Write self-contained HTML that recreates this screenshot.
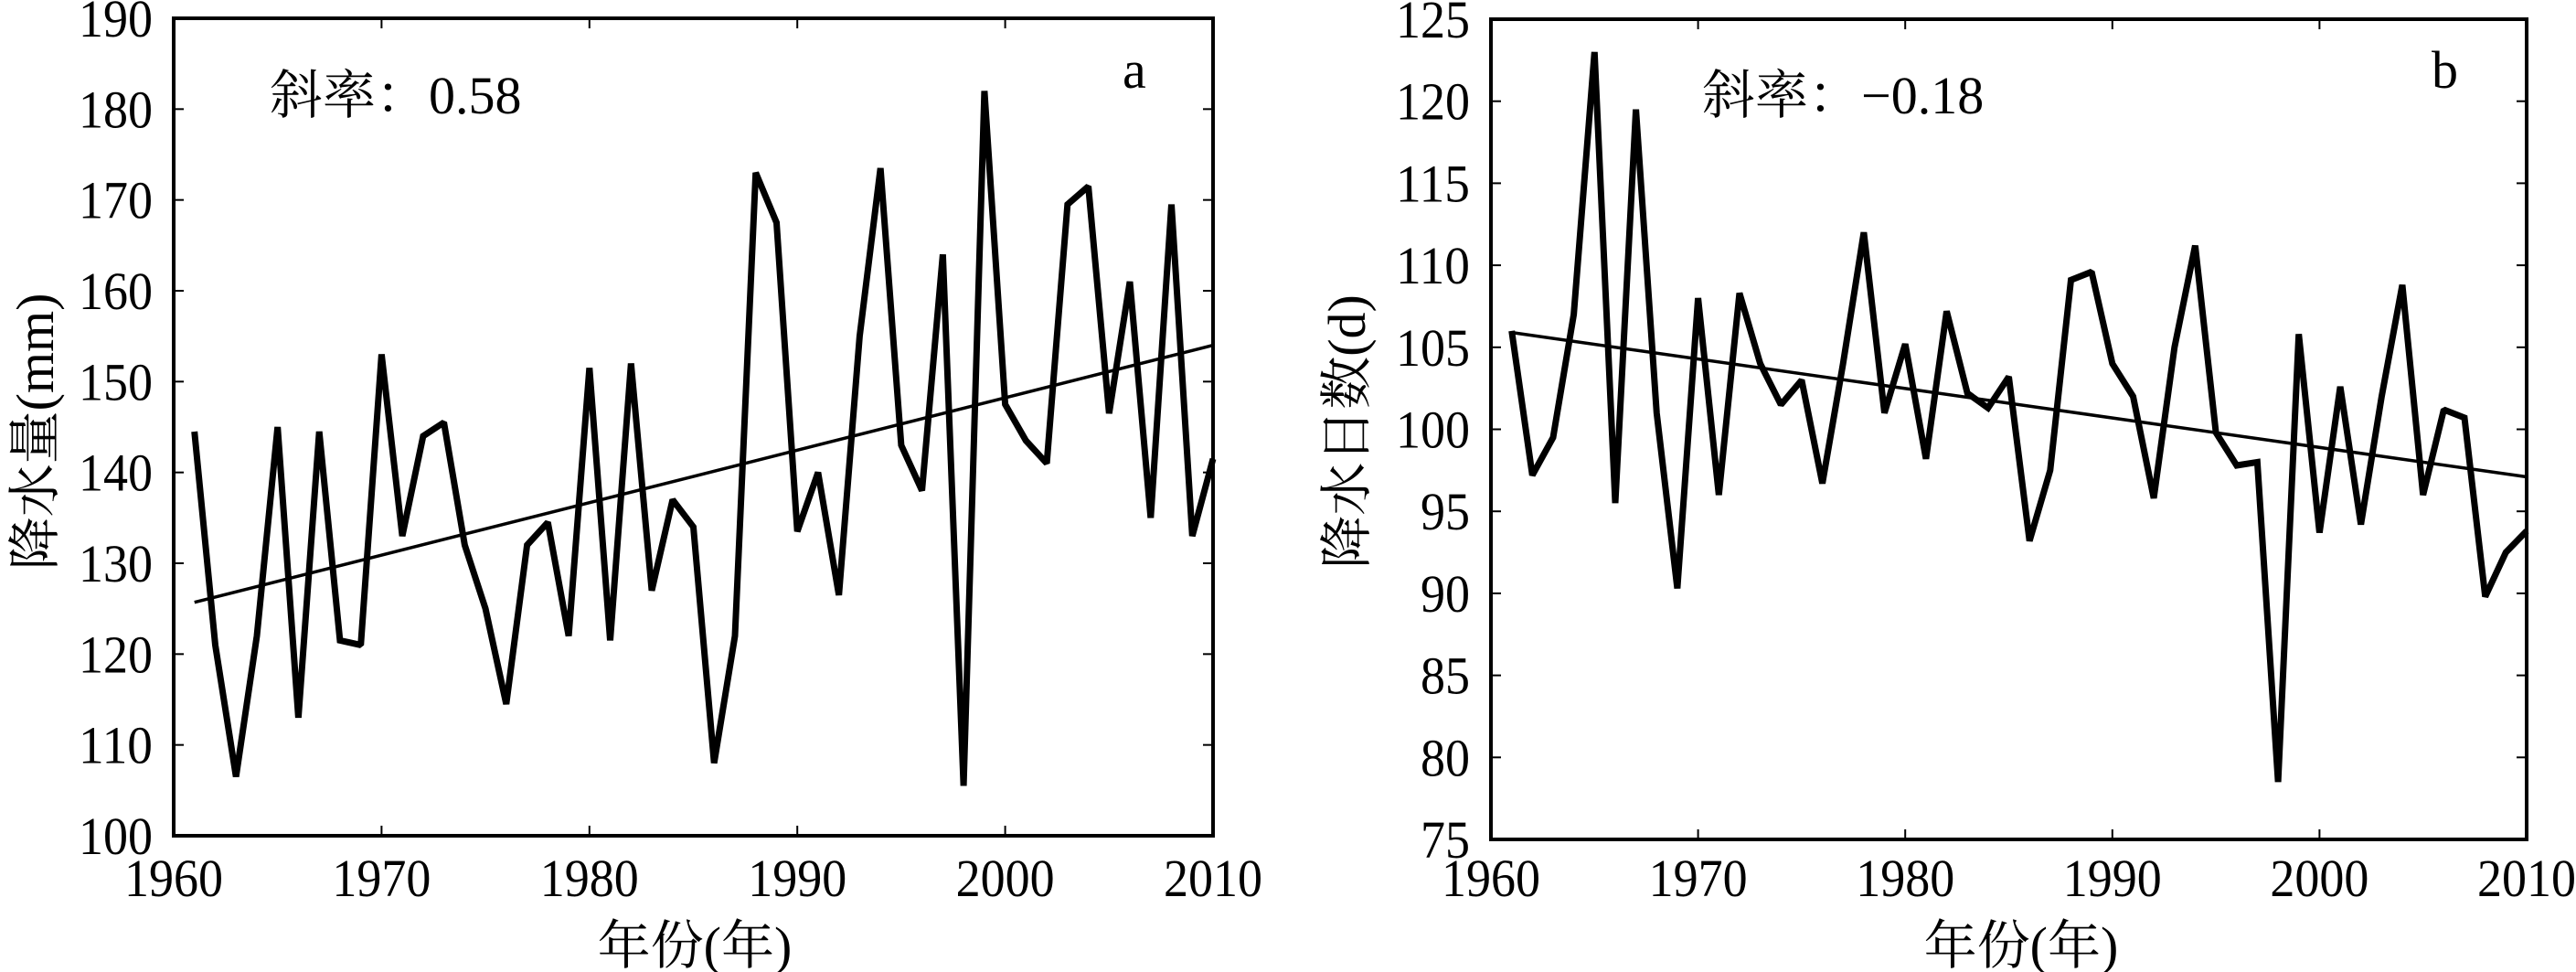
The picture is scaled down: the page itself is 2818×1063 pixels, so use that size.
<!DOCTYPE html>
<html><head><meta charset="utf-8"><style>
html,body{margin:0;padding:0;background:#fff;}
svg{display:block;font-family:"Liberation Serif","Noto Serif CJK SC",serif;}
</style></head><body>
<svg width="2818" height="1063" viewBox="0 0 2818 1063" xmlns="http://www.w3.org/2000/svg" font-family="'Liberation Serif','Noto Serif CJK SC',serif">
<g id="A"></g><g id="B"></g>
</svg>
<script>
(function(){
const NS="http://www.w3.org/2000/svg";
const FF="'Liberation Serif','Noto Serif CJK SC',serif";
function el(p,t,a,txt){const e=document.createElementNS(NS,t);for(const k in a)e.setAttribute(k,a[k]);if(txt!==undefined){e.textContent=txt;e.setAttribute('font-family',FF);e.setAttribute('fill','#000');}p.appendChild(e);return e;}
function panel(g,o){
 const L=o.L,R=o.R,T=o.T,B=o.B;
 const X=y=>L+(y-1960)/50*(R-L);
 const Y=v=>B-(v-o.ymin)/(o.ymax-o.ymin)*(B-T);
 for(let v=o.ymin;v<=o.ymax;v+=o.ystep){
  const y=Y(v);
  el(g,'line',{x1:L,y1:y,x2:L+11,y2:y,stroke:'#000','stroke-width':2});
  el(g,'line',{x1:R,y1:y,x2:R-11,y2:y,stroke:'#000','stroke-width':2});
  el(g,'text',{x:L-23,y:y+20,'font-size':58,'text-anchor':'end',textLength:String(v).length*27,lengthAdjust:'spacingAndGlyphs'},String(v));
 }
 for(let yr=1960;yr<=2010;yr+=10){
  const x=X(yr);
  el(g,'line',{x1:x,y1:B,x2:x,y2:B-11,stroke:'#000','stroke-width':2});
  el(g,'line',{x1:x,y1:T,x2:x,y2:T+11,stroke:'#000','stroke-width':2});
  el(g,'text',{x:x,y:980,'font-size':58,'text-anchor':'middle',textLength:108,lengthAdjust:'spacingAndGlyphs'},String(yr));
 }
 let pts=o.d.map((v,i)=>X(1961+i).toFixed(1)+','+Y(v).toFixed(1)).join(' ');
 el(g,'polyline',{points:pts,fill:'none',stroke:'#000','stroke-width':7,'stroke-linejoin':'miter','stroke-miterlimit':1.5});
 el(g,'line',{x1:X(1961),y1:Y(o.t0),x2:X(2010),y2:Y(o.t1),stroke:'#000','stroke-width':3.5});
 el(g,'rect',{x:L,y:T,width:R-L,height:B-T,fill:'none',stroke:'#000','stroke-width':4});
 el(g,'text',{x:o.ax,y:124,'font-size':58},o.ann);
 el(g,'text',{x:o.lx,y:96,'font-size':58},o.lab);
 el(g,'text',{x:o.xc,y:1054,'font-size':58,'text-anchor':'middle'},'年份(年)');
 el(g,'text',{x:0,y:0,'font-size':58,'text-anchor':'middle',transform:`translate(${o.yx},${o.yc}) rotate(-90)`},o.yt);
}
panel(document.getElementById('A'),{L:190,R:1327,T:20,B:914,ymin:100,ymax:190,ystep:10,
 d:[144.5,121,106.5,122,145,113,144.5,121.5,121,153,133,144,145.5,132,125,114.5,132,134.5,122,151.5,121.5,152,127,137,134,108,122,173,167.5,133.5,140,126.5,155,173.5,143,138,164,105.5,182,147.5,143.5,141,169.5,171.5,146.5,161,135,169.5,133,141.5],
 t0:125.7,t1:154,ann:'斜率：0.58',ax:295,lab:'a',lx:1228,xc:760,yx:58,yc:472,yt:'降水量(mm)'});
panel(document.getElementById('B'),{L:1631,R:2764,T:21,B:918,ymin:75,ymax:125,ystep:5,
 d:[106,97.2,99.5,107,123,95.5,119.5,101,90.3,108,96,108.3,104,101.5,103,96.7,104,112,101,105.2,98.2,107.2,102.2,101.3,103.2,93.2,97.5,109.1,109.6,104,102,95.8,105,111.2,99.8,97.8,98,78.5,105.8,93.7,102.6,94.2,102,108.8,96,101.2,100.7,89.8,92.5,93.8],
 t0:105.9,t1:97.1,ann:'斜率：−0.18',ax:1862,lab:'b',lx:2660,xc:2211,yx:1493,yc:472,yt:'降水日数(d)'});
})();
</script>
</body></html>
